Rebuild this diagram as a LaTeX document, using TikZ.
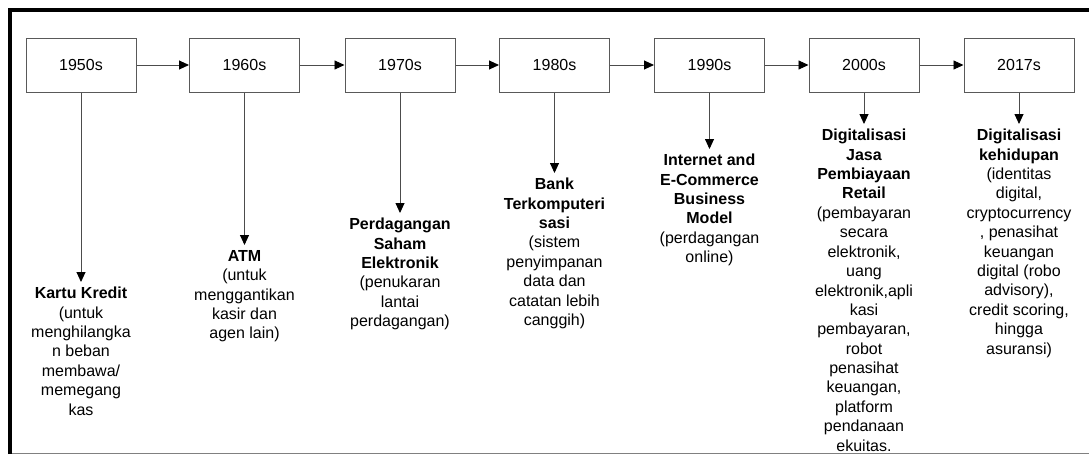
\documentclass[tikz,border=0pt]{standalone}
\usepackage{fontspec}
\setmainfont{Liberation Sans}
\usetikzlibrary{arrows.meta}

\begin{document}
\begin{tikzpicture}[x=1pt,y=-1pt,
  font=\fontsize{16}{19.4}\selectfont,
  yearbox/.style={draw=black!65,line width=1pt,minimum width=110pt,minimum height=54pt,inner sep=0pt},
  desc/.style={anchor=north,align=center,inner xsep=0pt,inner ysep=5pt},
  arr/.style={draw=black!70,line width=0.9pt,-{Triangle[length=10pt,width=9pt,black]}}]
  \useasboundingbox (0,0) rectangle (1089,455);
  % frame
  \draw[line width=4.5pt] (10,454) -- (10,10) -- (1089,10);
  \draw[black!50,line width=1.5pt] (12,453.5) -- (1089,453.5);
  % years
  \node[yearbox] (y1) at (81,65)    {1950s};
  \node[yearbox] (y2) at (244.5,65) {1960s};
  \node[yearbox] (y3) at (400,65)   {1970s};
  \node[yearbox] (y4) at (554.5,65) {1980s};
  \node[yearbox] (y5) at (709.5,65) {1990s};
  \node[yearbox] (y6) at (864,65)   {2000s};
  \node[yearbox] (y7) at (1019,65)  {2017s};
  % descriptions
  \node[desc] (d1) at (81,282)    {\textbf{Kartu Kredit}\\(untuk\\menghilangka\\n beban\\membawa/\\memegang\\kas};
  \node[desc] (d2) at (244.5,245) {\textbf{ATM}\\(untuk\\menggantikan\\kasir dan\\agen lain)};
  \node[desc] (d3) at (400,213)   {\textbf{Perdagangan}\\\textbf{Saham}\\\textbf{Elektronik}\\(penukaran\\lantai\\perdagangan)};
  \node[desc] (d4) at (554.5,173) {\textbf{Bank}\\\textbf{Terkomputeri}\\\textbf{sasi}\\(sistem\\penyimpanan\\data dan\\catatan lebih\\canggih)};
  \node[desc] (d5) at (709.5,149) {\textbf{Internet and}\\\textbf{E-Commerce}\\\textbf{Business}\\\textbf{Model}\\(perdagangan\\online)};
  \node[desc] (d6) at (864,124)   {\textbf{Digitalisasi}\\\textbf{Jasa}\\\textbf{Pembiayaan}\\\textbf{Retail}\\(pembayaran\\secara\\elektronik,\\uang\\elektronik,apli\\kasi\\pembayaran,\\robot\\penasihat\\keuangan,\\platform\\pendanaan\\ekuitas.};
  \node[desc] (d7) at (1019,124)  {\textbf{Digitalisasi}\\\textbf{kehidupan}\\(identitas\\digital,\\cryptocurrency\\, penasihat\\keuangan\\digital (robo\\advisory),\\credit scoring,\\hingga\\asuransi)};
  % timeline
  \draw[arr] (y1) -- (y2);
  \draw[arr] (y2) -- (y3);
  \draw[arr] (y3) -- (y4);
  \draw[arr] (y4) -- (y5);
  \draw[arr] (y5) -- (y6);
  \draw[arr] (y6) -- (y7);
  \foreach \i in {1,...,7}
    \draw[arr] (y\i.south) -- (d\i.north);
\end{tikzpicture}
\end{document}
